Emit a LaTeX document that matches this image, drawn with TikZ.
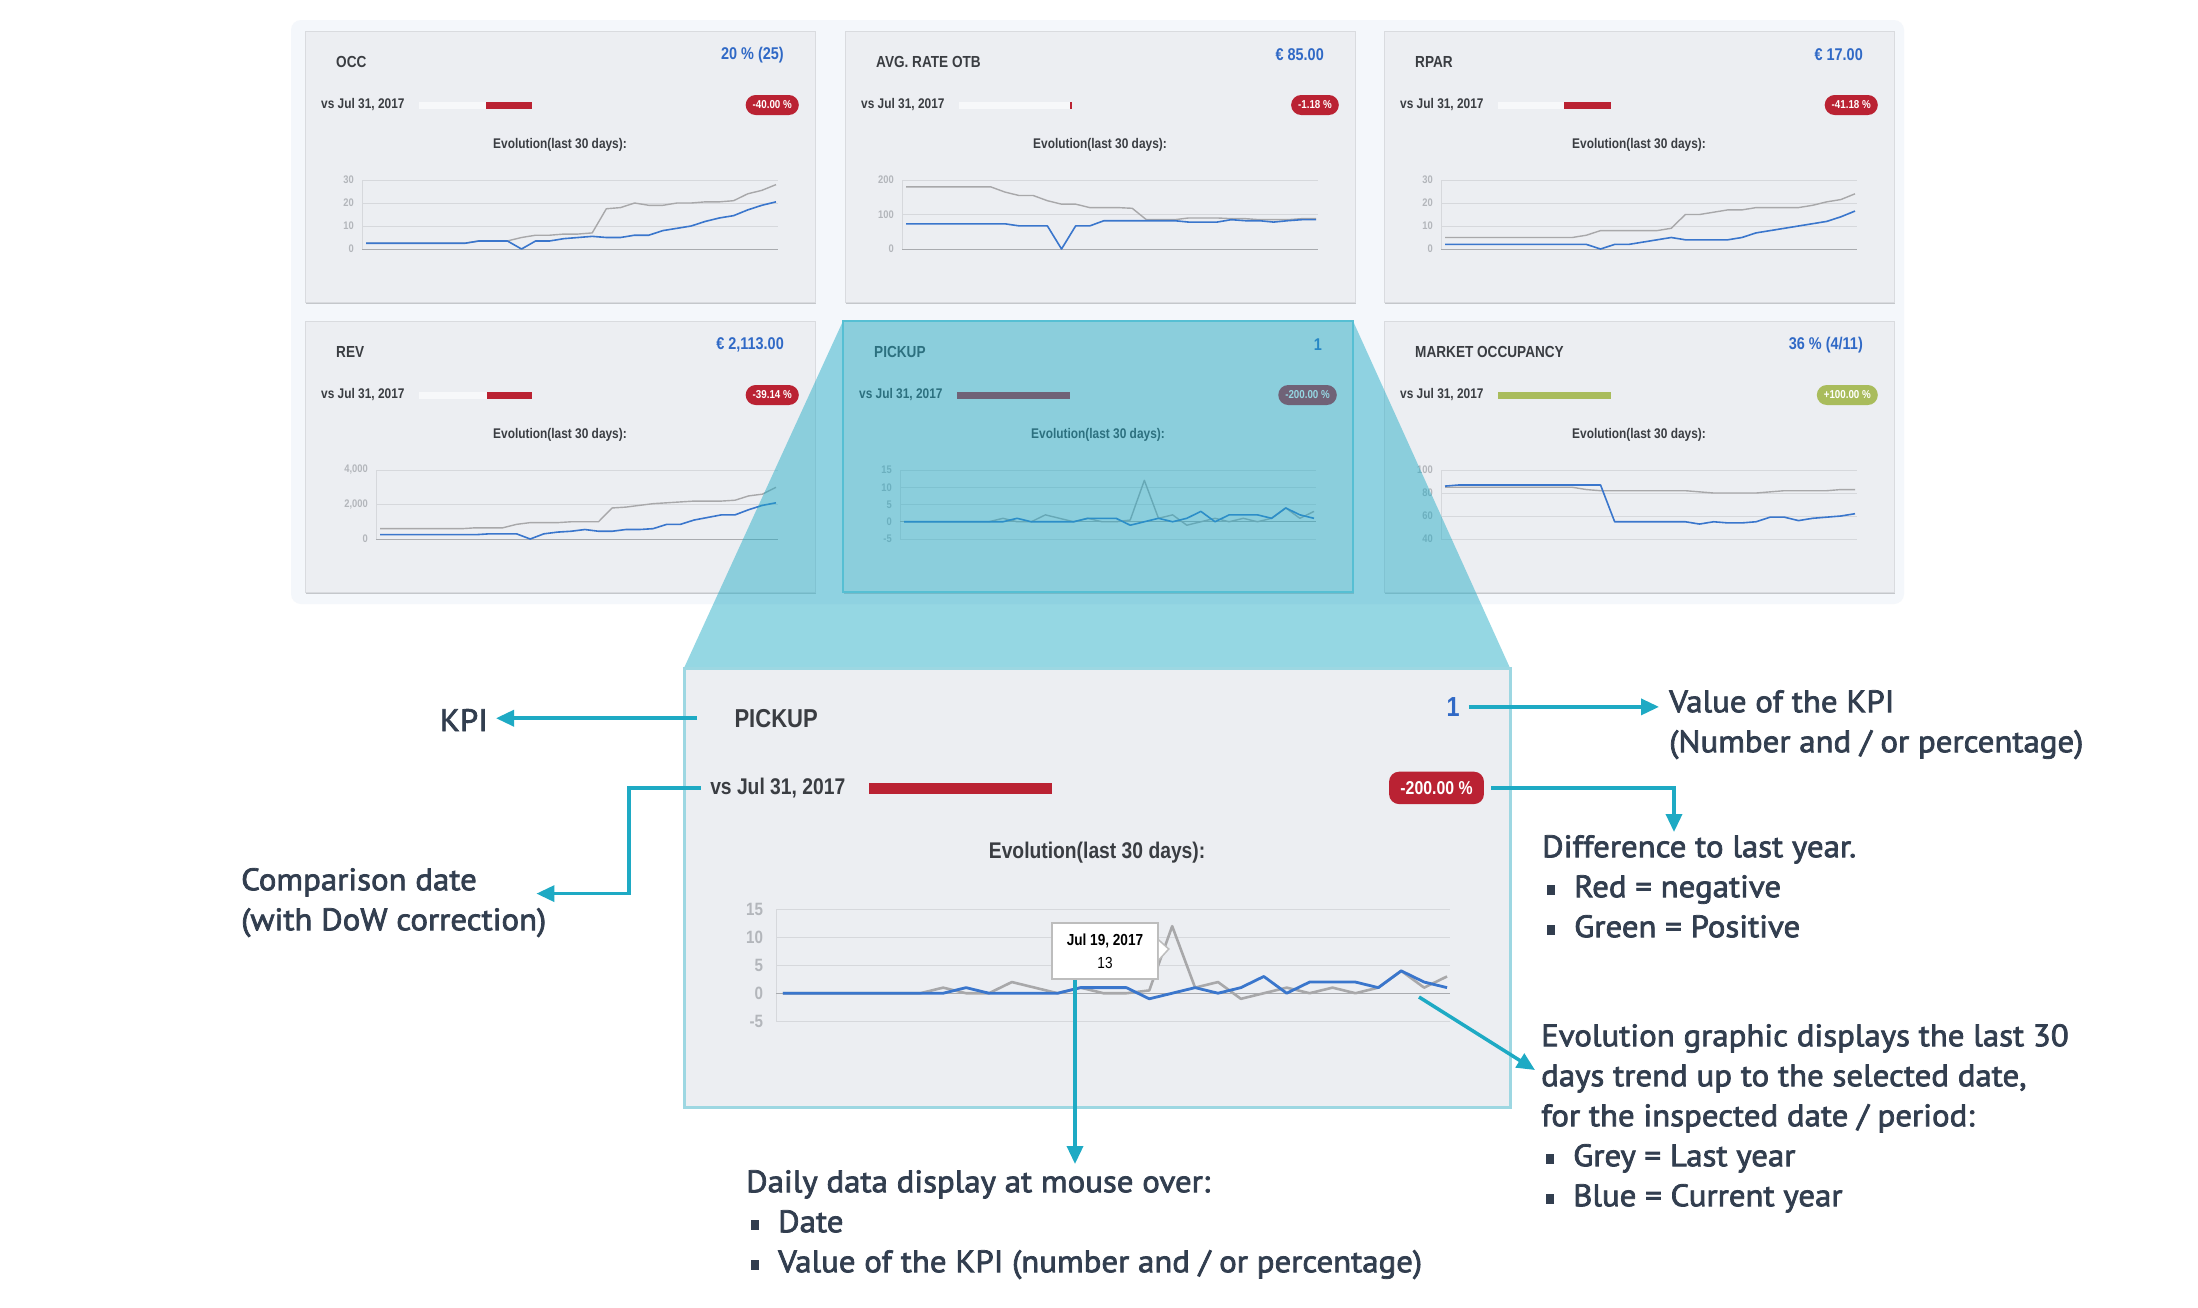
\documentclass[tikz,border=0pt]{standalone}
\usepackage{fontspec}
\setmainfont{PT Sans}
\newfontfamily\notefont[FakeStretch=1.06, FakeBold=2.4]{PT Sans}
\newfontfamily\cardfont[FakeStretch=0.85]{Liberation Sans}
\usepackage{tikz}
\usetikzlibrary{arrows.meta}
\usetikzlibrary{positioning}

\definecolor{inkc}{HTML}{323E4F}
\definecolor{tealc}{HTML}{1EAAC4}
\definecolor{panelc}{HTML}{F4F7FB}
\definecolor{cardc}{HTML}{ECEEF2}
\definecolor{cardedge}{HTML}{D9DBDF}
\definecolor{shadowc}{HTML}{C4C7CB}
\definecolor{titlec}{HTML}{3A3D42}
\definecolor{valuec}{HTML}{3069C6}
\definecolor{redc}{HTML}{BA2233}
\definecolor{greenc}{HTML}{A9BC5C}
\definecolor{barc}{HTML}{F7F8FA}
\definecolor{gridc}{HTML}{D6D8DC}
\definecolor{basec}{HTML}{A9ABAF}
\definecolor{axisc}{HTML}{B3B6BB}
\definecolor{greyc}{HTML}{A8A8AA}
\definecolor{bluec}{HTML}{3A76CC}
\definecolor{bigedge}{HTML}{9DD7E2}
\definecolor{tipedge}{HTML}{BDBDBD}

\tikzset{
  card/.style={fill=cardc, draw=cardedge, line width=0.6pt},
  cardshade/.style={fill=shadowc},
  cardtitle/.style={font=\cardfont\bfseries\fontsize{16}{18}\selectfont, text=titlec, anchor=west, inner sep=0pt},
  cardvalue/.style={font=\cardfont\bfseries\fontsize{17}{20}\selectfont, text=valuec, anchor=east, inner sep=0pt},
  cardvs/.style={font=\cardfont\bfseries\fontsize{14}{16}\selectfont, text=titlec, anchor=west, inner sep=0pt},
  badge/.style={fill=#1, text=white, rounded corners=10pt, minimum height=20pt, inner ysep=0pt, inner xsep=7pt, anchor=east, font=\cardfont\bfseries\fontsize{11.5}{12}\selectfont},
  evol/.style={font=\cardfont\bfseries\fontsize{14}{16}\selectfont, text=titlec, inner sep=0pt},
  axislab/.style={font=\cardfont\bfseries\fontsize{11}{12}\selectfont, text=axisc, anchor=east, inner sep=0pt},
  gridrule/.style={draw=gridc, line width=0.8pt},
  baserule/.style={draw=basec, line width=0.9pt},
  lastyear/.style={draw=greyc, line width=1.4pt, line join=round},
  thisyear/.style={draw=bluec, line width=1.6pt, line join=round},
  tipbox/.style={fill=white, draw=tipedge, line width=1.5pt, minimum width=106pt, minimum height=56pt, inner sep=0pt, align=center, font=\cardfont\fontsize{16}{23}\selectfont},
  callout/.style={draw=tealc, line width=3.5pt, -{Triangle[length=18pt,width=16pt]}},
  lbl/.style={font=\notefont\fontsize{31}{40}\selectfont, text=inkc, inner sep=0pt},
}

\def\zerolab{0}
\newcommand\bul{\hspace*{5pt}\makebox[27pt][l]{\rule[2.5pt]{7.5pt}{9.5pt}}}

% one KPI tile: frame, header, comparison bar and badge
\newcommand\kpicard[7]{%
  \begin{scope}[shift={(#2)}]
    \fill[cardshade] (1,2) rectangle (511,273);
    \path[card] (0,0) rectangle (510,271);
    \node[cardtitle] (#1-title) at (31,31) {#3};
    \node[cardvalue] (#1-value) at (479,24) {#4};
    \node[cardvs] (#1-vs) at (16,74) {vs Jul 31, 2017};
    \fill[barc] (114,71) rectangle (227,78);
    \fill[#5] (#6,71) rectangle (227,78);
    \node[badge=#5] (#1-badge) at (494,74) {#7};
    \node[evol] (#1-evol) at (255,114) {Evolution(last 30 days):};
  \end{scope}}

% grid of the small chart
\newcommand\kpichart[4]{%
  \begin{scope}[shift={(#1)}]
    \draw[gridrule] (#2,149) -- (#2,218);
    \foreach \lab [count=\k from 0] in {#3} {
      \pgfmathsetmacro\gy{149+\k*69/#4}
      \ifx\lab\zerolab
        \draw[baserule] (#2,\gy) -- (473,\gy);
      \else
        \draw[gridrule] (#2,\gy) -- (473,\gy);
      \fi
      \node[axislab] at (#2-8,\gy) {\lab};
    }
  \end{scope}}

% one series of thirty days
\newcommand\kpiline[6]{%
  \pgfmathsetmacro\kstep{(467-#2)/29}
  \pgfmathsetmacro\kbase{218+(#4)*(#5)}
  \gdef\kpts{}
  \foreach \v [count=\i from 0] in {#6} {\xdef\kpts{\kpts (\i,\v)}}
  \begin{scope}[shift={(#1)}, shift={(#2+4,\kbase)}, x=\kstep pt, y=#5 pt]
    \edef\kpath{\noexpand\draw[#3] plot coordinates {\kpts};}
    \kpath
  \end{scope}}

\begin{document}
\begin{tikzpicture}[x=1pt, y=-1pt]
\useasboundingbox (0,0) rectangle (2198,1307);
\fill[white] (0,0) rectangle (2198,1307);
\fill[panelc, rounded corners=10pt] (291,20) rectangle (1904,604);

% first row
\kpicard{occ}{305,31}{OCC}{20 \% (25)}{redc}{181}{-40.00 \%}
\kpichart{305,31}{57}{30,20,10,0}{3}
\kpiline{305,31}{57}{lastyear}{0}{2.3}{2.5,2.5,2.5,2.5,2.5,2.5,2.5,2.5,3.5,3.5,3.5,5,6,6,6.5,6.5,7,17.5,18,20,19,19,20,20,20.5,20.5,21,24,25.5,28}
\kpiline{305,31}{57}{thisyear}{0}{2.3}{2.5,2.5,2.5,2.5,2.5,2.5,2.5,2.5,3.5,3.5,3.5,0,3.5,3.5,4.5,5,5.5,5,5,6,6,8,9,10,12,13.5,14.5,17,19,20.5}

\kpicard{otb}{845,31}{AVG. RATE OTB}{€ 85.00}{redc}{225}{-1.18 \%}
\kpichart{845,31}{57}{200,100,0}{2}
\kpiline{845,31}{57}{lastyear}{0}{0.345}{180,180,180,180,180,180,180,165,155,155,140,130,130,120,120,120,118,85,85,85,90,90,90,88,88,85,85,85,88,88}
\kpiline{845,31}{57}{thisyear}{0}{0.345}{73,73,73,73,73,73,73,73,67,67,67,0,67,67,82,82,82,82,82,82,78,78,78,85,82,82,78,82,85,85}

\kpicard{rpar}{1384,31}{RPAR}{€ 17.00}{redc}{180}{-41.18 \%}
\kpichart{1384,31}{57}{30,20,10,0}{3}
\kpiline{1384,31}{57}{lastyear}{0}{2.3}{5,5,5,5,5,5,5,5,5,5,6,8,8,8,8,8,9,15,15,16,17,17,18,18,18,18,19,20.5,21.5,24}
\kpiline{1384,31}{57}{thisyear}{0}{2.3}{2,2,2,2,2,2,2,2,2,2,2,0,2,2,3,4,5,4,4,4,4,5,7,8,9,10,11,12,14,16.5}

% second row
\kpicard{rev}{305,321}{REV}{€ 2,113.00}{redc}{182}{-39.14 \%}
\kpichart{305,321}{71}{{4,000},{2,000},0}{2}
\kpiline{305,321}{71}{lastyear}{0}{0.01725}{600,600,600,600,600,600,600,650,650,650,850,950,950,950,1000,1000,1000,1800,1850,1950,2050,2100,2150,2200,2200,2200,2250,2500,2600,3000}
\kpiline{305,321}{71}{thisyear}{0}{0.01725}{250,250,250,250,250,250,250,250,300,300,300,0,300,400,450,550,450,450,550,550,600,850,850,1100,1250,1400,1400,1700,1950,2100}

\kpicard{pick}{843,321}{PICKUP}{1}{redc}{114}{-200.00 \%}
\kpichart{843,321}{57}{15,10,5,0,-5}{4}
\kpiline{843,321}{57}{lastyear}{-5}{3.45}{0,0,0,0,0,0,0,1,0,0,2,1,0,1,0,0,0.5,12,1,2,-1,0,1,0,1,0,1,4,1,3}
\kpiline{843,321}{57}{thisyear}{-5}{3.45}{0,0,0,0,0,0,0,0,1,0,0,0,0,1,1,1,-1,0,1,0,1,3,0,2,2,2,1,4,2,1}

\kpicard{mkt}{1384,321}{MARKET OCCUPANCY}{36 \% (4/11)}{greenc}{114}{+100.00 \%}
\kpichart{1384,321}{57}{100,80,60,40}{3}
\kpiline{1384,321}{57}{lastyear}{40}{1.15}{85,85,85,85,85,85,85,85,85,85,83,82,82,82,82,82,82,82,81,80,80,80,80,81,82,82,82,82,83,83}
\kpiline{1384,321}{57}{thisyear}{40}{1.15}{86,87,87,87,87,87,87,87,87,87,87,87,55,55,55,55,55,55,53,55,54,54,55,59,59,56,58,59,60,62}

% zoom wedge
\fill[tealc, opacity=0.47] (843,321) -- (1353,321) -- (1510,668) -- (684,668) -- cycle;
\draw[tealc!75!white, line width=1.5pt] (843,321) rectangle (1353,592);

% enlarged tile
\begin{scope}[shift={(684,668)}, scale=1.62, transform shape]
  \tikzset{card/.style={fill=cardc, draw=bigedge, line width=3pt},
    cardshade/.style={fill=none},
    lastyear/.append style={line width=2.6pt},
    thisyear/.append style={line width=2.8pt},
    gridrule/.append style={line width=1.2pt},
    baserule/.append style={line width=1.4pt}}
  \kpicard{big}{0,0}{PICKUP}{1}{redc}{114}{-200.00 \%}
  \kpichart{0,0}{57}{15,10,5,0,-5}{4}
  \kpiline{0,0}{57}{lastyear}{-5}{3.45}{0,0,0,0,0,0,0,1,0,0,2,1,0,1,0,0,0.5,12,1,2,-1,0,1,0,1,0,1,4,1,3}
  \kpiline{0,0}{57}{thisyear}{-5}{3.45}{0,0,0,0,0,0,0,0,1,0,0,0,0,1,1,1,-1,0,1,0,1,3,0,2,2,2,1,4,2,1}
\end{scope}

% mouse over tooltip
\node[tipbox] (tip) at (1105,951) {\textbf{Jul 19, 2017}\\13};
\filldraw[fill=white, draw=tipedge, line width=1.5pt] ([yshift=11pt]tip.east) -- ++(10,9) -- ([yshift=-9pt]tip.east);

% explanations
\node[lbl, anchor=base east] (kpi) at (488,731) {KPI};
\node[lbl, anchor=north west, align=left] (dowtext) at (241,862) {\strut Comparison date\\(with DoW correction)};
\node[lbl, anchor=north west, align=left] (valtext) at (1669,684) {\strut Value of the KPI\\(Number and / or percentage)};
\node[lbl, anchor=north west, align=left] (difftext) at (1542,829) {\strut Difference to last year.\\\bul Red = negative\\\bul Green = Positive};
\node[lbl, anchor=north west, align=left] (evotext) at (1541,1018) {\strut Evolution graphic displays the last 30\\days trend up to the selected date,\\for the inspected date / period:\\\bul Grey = Last year\\\bul Blue = Current year};
\node[lbl, anchor=north west, align=left] (daytext) at (746,1164) {\strut Daily data display at mouse over:\\\bul Date\\\bul Value of the KPI (number and / or percentage)};

\coordinate (evofrom) at (1419,997);

\draw[callout, shorten >=8pt] ([xshift=-37pt]big-title.west) -- (big-title.west -| kpi.east);
\draw[callout] ([xshift=-9pt]big-vs.west) -- ++(-72pt,0) |- ([xshift=-10pt,yshift=6pt]dowtext.east);
\draw[callout, shorten >=10pt] ([xshift=9pt]big-value.east) -- (big-value.east -| valtext.west);
\draw[callout] ([xshift=7pt]big-badge.east) -| ([xshift=132pt,yshift=-3pt]difftext.north west);
\draw[callout] ([xshift=-30pt]tip.south) -- ([xshift=-30pt]tip.south |- daytext.north);
\draw[callout] (evofrom) -- ([xshift=-6pt,yshift=-52pt]evotext.north west);
\end{tikzpicture}
\end{document}
